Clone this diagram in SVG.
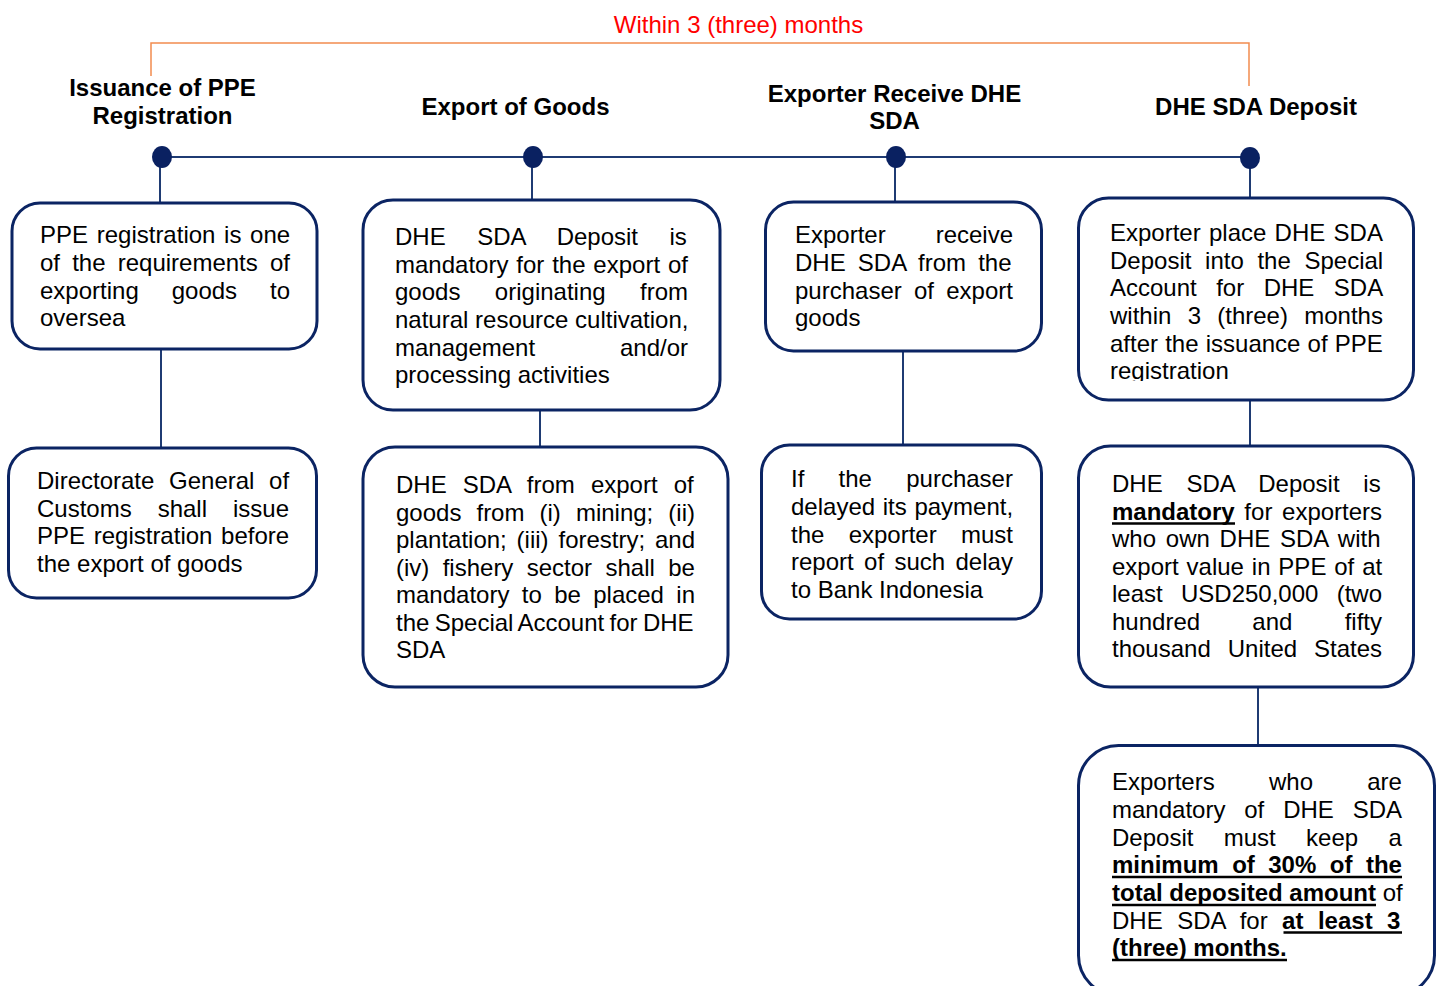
<svg xmlns="http://www.w3.org/2000/svg" width="1441" height="986" viewBox="0 0 1441 986">
  <style>
    .box { fill: #ffffff; stroke: #0b2463; stroke-width: 3; }
    .link { stroke: #1f3b73; stroke-width: 2; fill: none; }
    .dot { fill: #0a2161; }
    .bracket { stroke: #f28c4f; stroke-width: 1.5; fill: none; }
    .head { font-family: "Liberation Sans", Arial, sans-serif; font-size: 24px; font-weight: bold; fill: #000; text-anchor: middle; }
    .note { font-family: "Liberation Sans", Arial, sans-serif; font-size: 24px; fill: #ff0000; text-anchor: middle; }
    .body { font-family: "Liberation Sans", Arial, sans-serif; font-size: 24px; fill: #000; }
    .b { font-weight: bold; }
    .uline { stroke: #000; stroke-width: 2.5; }
  </style>
  <defs>
    <clipPath id="clip-deposit">
      <rect x="1080" y="200" width="330" height="181"/>
    </clipPath>
  </defs>

  <rect width="1441" height="986" fill="#ffffff"/>

  <!-- three-month span bracket -->
  <g id="span">
    <path class="bracket" d="M151,76 V43 H1249 V86"/>
    <text class="note" x="738.5" y="33">Within 3 (three) months</text>
  </g>

  <!-- connectors -->
  <g id="connectors">
    <line class="link" x1="162" y1="157" x2="1250" y2="157"/>
    <line class="link" x1="160" y1="157" x2="160" y2="203"/>
    <line class="link" x1="532" y1="157" x2="532" y2="200"/>
    <line class="link" x1="895" y1="157" x2="895" y2="202"/>
    <line class="link" x1="1250" y1="158" x2="1250" y2="198"/>
    <line class="link" x1="161" y1="349" x2="161" y2="448"/>
    <line class="link" x1="540" y1="410" x2="540" y2="447"/>
    <line class="link" x1="903" y1="351" x2="903" y2="445"/>
    <line class="link" x1="1250" y1="400" x2="1250" y2="446"/>
    <line class="link" x1="1258" y1="687" x2="1258" y2="745"/>
  </g>

  <!-- timeline stages -->
  <g id="stage-ppe">
    <text class="head" x="162.5" y="96">Issuance of PPE</text>
    <text class="head" x="162.5" y="124">Registration</text>
    <ellipse class="dot" cx="162" cy="157" rx="10" ry="11"/>
  </g>
  <g id="stage-export">
    <text class="head" x="515.5" y="115">Export of Goods</text>
    <ellipse class="dot" cx="533" cy="157" rx="10" ry="11"/>
  </g>
  <g id="stage-receive">
    <text class="head" x="894.5" y="102">Exporter Receive DHE</text>
    <text class="head" x="894.5" y="129">SDA</text>
    <ellipse class="dot" cx="896" cy="157" rx="10" ry="11"/>
  </g>
  <g id="stage-deposit">
    <text class="head" x="1256" y="115">DHE SDA Deposit</text>
    <ellipse class="dot" cx="1250" cy="158" rx="10" ry="11"/>
  </g>

  <!-- column 1 -->
  <g id="ppe-requirement">
    <rect class="box" x="12" y="203" width="305" height="146" rx="28"/>
    <text class="body" x="40" y="243" style="word-spacing:2px">PPE registration is one</text>
    <text class="body" x="40" y="271" style="word-spacing:5.5px">of the requirements of</text>
    <text class="body" x="40" y="299" style="word-spacing:26.3px">exporting goods to</text>
    <text class="body" x="40" y="326">oversea</text>
  </g>
  <g id="ppe-customs">
    <rect class="box" x="8.5" y="448" width="308" height="150" rx="28"/>
    <text class="body" x="37" y="489" style="word-spacing:8px">Directorate General of</text>
    <text class="body" x="37" y="517" style="word-spacing:19.3px">Customs shall issue</text>
    <text class="body" x="37" y="544" style="word-spacing:2px">PPE registration before</text>
    <text class="body" x="37" y="572">the export of goods</text>
  </g>

  <!-- column 2 -->
  <g id="export-mandatory">
    <rect class="box" x="363" y="200" width="357" height="210" rx="30"/>
    <text class="body" x="395" y="245" style="word-spacing:24.8px">DHE SDA Deposit is</text>
    <text class="body" x="395" y="272.5" style="word-spacing:1.2px">mandatory for the export of</text>
    <text class="body" x="395" y="300" style="word-spacing:27.8px">goods originating from</text>
    <text class="body" x="395" y="328">natural resource cultivation,</text>
    <text class="body" x="395" y="355.5" style="word-spacing:78.2px">management and/or</text>
    <text class="body" x="395" y="383">processing activities</text>
  </g>
  <g id="export-sectors">
    <rect class="box" x="363" y="447" width="365" height="240" rx="32"/>
    <text class="body" x="396" y="493" style="word-spacing:9.4px">DHE SDA from export of</text>
    <text class="body" x="396" y="520.5" style="word-spacing:8.4px">goods from (i) mining; (ii)</text>
    <text class="body" x="396" y="548" style="word-spacing:3.2px">plantation; (iii) forestry; and</text>
    <text class="body" x="396" y="575.5" style="word-spacing:6.7px">(iv) fishery sector shall be</text>
    <text class="body" x="396" y="603" style="word-spacing:5.7px">mandatory to be placed in</text>
    <text class="body" x="396" y="630.5" style="word-spacing:-1.3px">the Special Account for DHE</text>
    <text class="body" x="396" y="658">SDA</text>
  </g>

  <!-- column 3 -->
  <g id="receive-payment">
    <rect class="box" x="765.5" y="202" width="276" height="149" rx="28"/>
    <text class="body" x="795" y="243" style="word-spacing:43.3px">Exporter receive</text>
    <text class="body" x="795" y="271" style="word-spacing:5.5px">DHE SDA from the</text>
    <text class="body" x="795" y="299" style="word-spacing:5.6px">purchaser of export</text>
    <text class="body" x="795" y="326">goods</text>
  </g>
  <g id="receive-delay">
    <rect class="box" x="761.5" y="445" width="280" height="174" rx="28"/>
    <text class="body" x="791" y="487" style="word-spacing:27.6px">If the purchaser</text>
    <text class="body" x="791" y="515" style="word-spacing:1px">delayed its payment,</text>
    <text class="body" x="791" y="542.5" style="word-spacing:17.6px">the exporter must</text>
    <text class="body" x="791" y="570" style="word-spacing:3.7px">report of such delay</text>
    <text class="body" x="791" y="598">to Bank Indonesia</text>
  </g>

  <!-- column 4 -->
  <g id="deposit-placement">
    <rect class="box" x="1078.5" y="198" width="335" height="202" rx="30"/>
    <g clip-path="url(#clip-deposit)">
      <text class="body" x="1110" y="241" style="word-spacing:1.6px">Exporter place DHE SDA</text>
      <text class="body" x="1110" y="268.5" style="word-spacing:7px">Deposit into the Special</text>
      <text class="body" x="1110" y="296" style="word-spacing:12.8px">Account for DHE SDA</text>
      <text class="body" x="1110" y="324" style="word-spacing:9.6px">within 3 (three) months</text>
      <text class="body" x="1110" y="351.5" style="word-spacing:0.5px">after the issuance of PPE</text>
      <text class="body" x="1110" y="379">registration</text>
    </g>
  </g>
  <g id="deposit-threshold">
    <rect class="box" x="1078.5" y="446" width="335" height="241" rx="32"/>
    <text class="body" x="1112" y="492" style="word-spacing:17.1px">DHE SDA Deposit is</text>
    <text class="body" x="1112" y="519.5" style="word-spacing:3px"><tspan class="b">mandatory</tspan> for exporters</text>
    <line class="uline" x1="1112" y1="523.5" x2="1235" y2="523.5"/>
    <text class="body" x="1112" y="547" style="word-spacing:3.1px">who own DHE SDA with</text>
    <text class="body" x="1112" y="574.5" style="word-spacing:1.2px">export value in PPE of at</text>
    <text class="body" x="1112" y="602" style="word-spacing:11.6px">least USD250,000 (two</text>
    <text class="body" x="1112" y="629.5" style="word-spacing:45.6px">hundred and fifty</text>
    <text class="body" x="1112" y="657" style="word-spacing:10.3px">thousand United States</text>
  </g>
  <g id="deposit-retention">
    <rect class="box" x="1078.5" y="745.5" width="356" height="250" rx="40"/>
    <text class="body" x="1112" y="790" style="word-spacing:47.6px">Exporters who are</text>
    <text class="body" x="1112" y="818" style="word-spacing:12.2px">mandatory of DHE SDA</text>
    <text class="body" x="1112" y="845.5" style="word-spacing:23.7px">Deposit must keep a</text>
    <text class="body b" x="1112" y="873" style="word-spacing:6.8px">minimum of 30% of the</text>
    <line class="uline" x1="1112" y1="877" x2="1402" y2="877"/>
    <text class="body" x="1112" y="901"><tspan class="b">total deposited amount</tspan> of</text>
    <line class="uline" x1="1112" y1="905" x2="1376" y2="905"/>
    <text class="body" x="1112" y="928.5" style="word-spacing:7.8px">DHE SDA for <tspan class="b">at least 3</tspan></text>
    <line class="uline" x1="1283.5" y1="932.5" x2="1402" y2="932.5"/>
    <text class="body b" x="1112" y="956">(three) months.</text>
    <line class="uline" x1="1112" y1="960" x2="1287" y2="960"/>
  </g>
</svg>
